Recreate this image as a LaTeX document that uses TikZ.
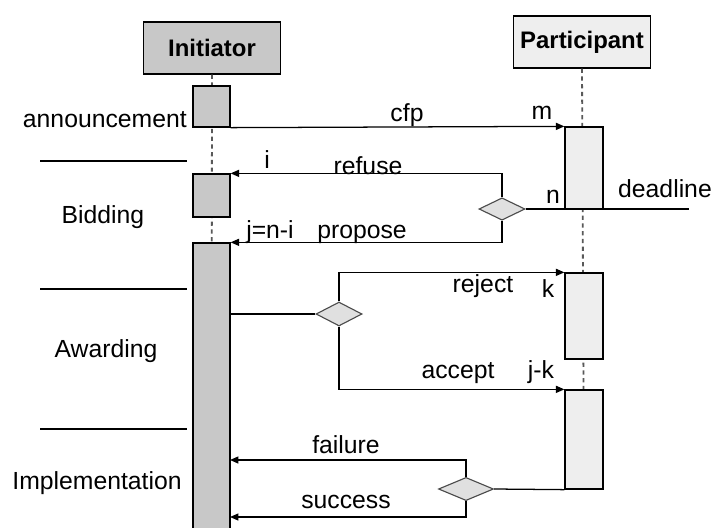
\documentclass[tikz,border=0pt]{standalone}
\usepackage{fontspec}
\setmainfont{Liberation Sans}
\usetikzlibrary{shapes.geometric,arrows.meta}
\definecolor{initfill}{RGB}{200,200,200}
\definecolor{partfill}{RGB}{238,238,238}
\definecolor{choicefill}{RGB}{224,224,224}
\begin{document}
\begin{tikzpicture}[
            x=0.025cm, y=-0.025cm,
            font=\fontsize{17.6}{20}\selectfont,
            role/.style={
                rectangle,
                draw=black,
                line width=1pt,
                minimum width=3.42cm,
                minimum height=1.3cm,
                font=\fontsize{17}{20}\selectfont\bfseries
            },
            initact/.style={
                rectangle,
                draw=black,
                fill=initfill,
                line width=0.9pt,
                minimum width=0.925cm,
                inner sep=0pt
            },
            partact/.style={
                rectangle,
                draw=black,
                fill=partfill,
                line width=0.9pt,
                minimum width=0.95cm,
                inner sep=0pt
            },
            choice/.style={
                diamond,
                draw=black!70,
                fill=choicefill,
                line width=0.8pt,
                inner sep=0pt
            },
            lifeline/.style={draw=black!65, line width=1.3pt, dash pattern=on 3pt off 2.5pt},
            arrow/.style={-{Triangle[length=6pt,width=5pt]}, line width=0.9pt},
            link/.style={line width=0.9pt},
            lbl/.style={anchor=base, inner sep=0pt}
        ]
        \useasboundingbox (0,0) rectangle (711,527);

        % Roles
        \node[role, fill=initfill] (init) at (212,48) {Initiator};
        \node[role, fill=partfill] (part) at (582,42) {Participant};

        % Lifelines
        \draw[lifeline] (init.south) -- (211.5,527);
        \draw[lifeline] (part.south) -- (584,489);

        % Activations of the initiator
        \node[initact, minimum height=1.025cm] (ia1) at (211.5,106.5) {};
        \node[initact, minimum height=1.075cm] (ia2) at (211.5,195.5) {};
        \node[initact, minimum height=7.35cm] (ia3) at (211.5,390) {};

        % Activations of the participant
        \node[partact, minimum height=2.05cm] (pa1) at (584,168) {};
        \node[partact, minimum height=2.15cm] (pa2) at (584,316) {};
        \node[partact, minimum height=2.475cm] (pa3) at (584,439.5) {};

        % Decisions
        \node[choice, minimum width=1.15cm, minimum height=0.56cm] (d1) at (502,209) {};
        \node[choice, minimum width=1.15cm, minimum height=0.6cm] (d2) at (339,314) {};
        \node[choice, minimum width=1.375cm, minimum height=0.58cm] (d3) at (466,489) {};

        % Free ends
        \coordinate (dl) at (689,209);
        \coordinate (fl) at (230,460);
        \coordinate (sc) at (230,517);

        % Messages
        \draw[arrow] (ia1.south east) -- (pa1.north west);
        \draw[link] (d1.east) -- (dl);
        \draw[arrow] (d1.north) |- (ia2.north east);
        \draw[arrow] (d1.south) |- (ia3.north east);
        \draw[link] (ia3.east |- d2.west) -- (d2.west);
        \draw[arrow] (d2.north) |- (pa2.north west);
        \draw[arrow] (d2.south) |- (pa3.north west);
        \draw[link] (pa3.south west) -- (d3.east);
        \draw[arrow] (d3.north) |- (fl);
        \draw[arrow] (d3.south) |- (sc);

        % Message labels
        \node[lbl] (lcfp) at (407,121) {cfp};
        \node[lbl] (lm) at (542,119) {m};
        \node[lbl] (li) at (267,168) {i};
        \node[lbl] (lrefuse) at (368,174) {refuse};
        \node[lbl] (ln) at (553,203) {n};
        \node[lbl] (ldeadline) at (665,197) {deadline};
        \node[lbl] (lj) at (270,238) {j=n-i};
        \node[lbl] (lpropose) at (362,238) {propose};
        \node[lbl] (lreject) at (483,292) {reject};
        \node[lbl] (lk) at (548,297) {k};
        \node[lbl] (laccept) at (458,378) {accept};
        \node[lbl] (ljk) at (541,378) {j-k};
        \node[lbl] (lfailure) at (346,453) {failure};
        \node[lbl] (lsuccess) at (346,508) {success};

        % Phases
        \node[lbl, anchor=base east] (pann) at (187,127) {announcement};
        \node[lbl] (pbid) at (103,223) {Bidding};
        \node[lbl] (pawd) at (106,357) {Awarding};
        \node[lbl] (pimp) at (97,489) {Implementation};
        \draw[link] (40,161) -- (187,161);
        \draw[link] (40,289) -- (187,289);
        \draw[link] (40,429) -- (187,429);

        \end{tikzpicture}
\end{document}
